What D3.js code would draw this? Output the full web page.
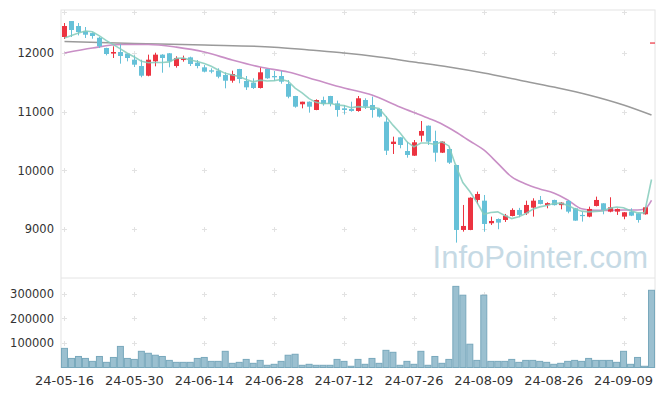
<!DOCTYPE html>
<html>
<head>
<meta charset="utf-8">
<script src="https://cdn.jsdelivr.net/npm/d3@7"></script>
<style>
  body { margin: 0; background: #fff; }
  svg { display: block; }
</style>
</head>
<body>
<svg id="chart" width="665" height="396"></svg>
<script>
const dates = ['24-05-16','24-05-17','24-05-20','24-05-21','24-05-22','24-05-23','24-05-24','24-05-27','24-05-28','24-05-29',
  '24-05-30','24-05-31','24-06-03','24-06-04','24-06-05','24-06-07','24-06-10','24-06-11','24-06-12','24-06-13',
  '24-06-14','24-06-17','24-06-18','24-06-19','24-06-20','24-06-21','24-06-24','24-06-25','24-06-26','24-06-27',
  '24-06-28','24-07-01','24-07-02','24-07-03','24-07-04','24-07-05','24-07-08','24-07-09','24-07-10','24-07-11',
  '24-07-12','24-07-15','24-07-16','24-07-17','24-07-18','24-07-19','24-07-22','24-07-23','24-07-24','24-07-25',
  '24-07-26','24-07-29','24-07-30','24-07-31','24-08-01','24-08-02','24-08-05','24-08-06','24-08-07','24-08-08',
  '24-08-09','24-08-12','24-08-13','24-08-14','24-08-16','24-08-19','24-08-20','24-08-21','24-08-22','24-08-23',
  '24-08-26','24-08-27','24-08-28','24-08-29','24-08-30','24-09-02','24-09-03','24-09-04','24-09-05','24-09-06',
  '24-09-09','24-09-10','24-09-11','24-09-12','24-09-13'];

const opens = [12273,12545,12460,12370,12340,12260,12085,11990,12017,11990,
  11886,11778,11613,11858,11972,11995,11778,11880,11926,11835,
  11756,11705,11699,11625,11528,11727,11523,11494,11404,11727,
  11608,11608,11472,11267,11126,11170,11029,11199,11267,11142,
  11057,11046,11012,11199,11114,11046,10830,10449,10563,10330,
  10250,10591,10761,10500,10301,10364,10091,8984,8984,9495,
  9483,9098,9171,9154,9222,9325,9268,9364,9495,9407,
  9495,9407,9478,9353,9240,9211,9393,9438,9296,9296,
  9211,9296,9268,9251,12180];
const highs = [12511,12545,12511,12443,12350,12273,12090,12114,12148,11995,
  11960,11886,11972,12005,11980,12000,11944,11955,11937,11880,
  11795,11739,11739,11671,11699,11730,11608,11569,11750,11730,
  11693,11693,11540,11270,11170,11175,11210,11256,11270,11188,
  11114,11170,11267,11228,11256,11050,10926,10574,10565,10489,
  10517,10841,10765,10676,10495,10404,10095,9410,9540,9637,
  9580,9211,9180,9257,9353,9360,9483,9524,9563,9455,
  9500,9460,9495,9360,9296,9381,9552,9440,9541,9350,
  9290,9353,9270,9380,12180];
const lows = [12239,12273,12300,12256,12244,12085,11960,11915,11818,11858,
  11761,11586,11603,11773,11664,11756,11750,11852,11778,11739,
  11670,11654,11569,11398,11494,11484,11370,11387,11395,11560,
  11528,11477,11228,11068,11057,10983,11025,11102,11091,10915,
  10955,11000,11000,11046,10898,10900,10262,10279,10376,10216,
  10245,10489,10432,10148,10295,10109,8768,8955,8980,9427,
  8955,9069,8996,9120,9215,9200,9240,9211,9420,9353,
  9400,9336,9268,9140,9126,9200,9385,9251,9285,9240,
  9166,9220,9109,9245,12180];
const closes = [12460,12392,12358,12312,12290,12114,11983,12017,11949,11915,
  11801,11613,11886,11972,11915,11858,11915,11909,11813,11778,
  11682,11682,11596,11528,11642,11557,11415,11404,11671,11569,
  11586,11511,11255,11085,11170,11085,11199,11131,11131,11029,
  11029,11012,11228,11085,11029,10915,10335,10489,10432,10262,
  10478,10671,10489,10301,10489,10131,8984,9052,9534,9597,
  9086,9137,9109,9228,9325,9240,9410,9483,9427,9441,
  9407,9449,9296,9143,9228,9342,9495,9325,9370,9342,
  9285,9228,9154,9370,12180];
const volumes = [78000,37000,45000,37000,25000,45000,21000,41000,86000,37000,
  33000,66000,58000,50000,45000,29000,21000,21000,21000,37000,
  41000,25000,25000,66000,17000,21000,33000,17000,29000,9000,
  13000,25000,50000,54000,9000,13000,9000,9000,9000,33000,
  25000,5000,33000,13000,37000,17000,70000,62000,9000,25000,
  13000,66000,9000,45000,17000,33000,331000,295000,95000,29000,
  295000,25000,25000,25000,33000,21000,29000,29000,25000,21000,
  13000,17000,25000,29000,25000,37000,29000,29000,29000,21000,
  66000,13000,41000,5000,315000];

// moving averages (earlier history is not shown)
const ma5Head = [12256,12300,12340,12375];
const ma20Idx = [0,4,8,12,16,20,24,28,32,36,40,44,48,52,54,56,58,60,62,64,66,68,70,72,74,76,78,80,82,83,84];
const ma20Vals = [12000,12085,12145,12145,12100,12017,11880,11760,11676,11540,11404,11284,11080,10892,10790,10654,10500,10347,10120,9887,9768,9683,9614,9495,9345,9318,9318,9325,9325,9340,9490];
const ma120Idx = [0,10,20,30,35,40,45,50,55,60,65,70,75,80,84];
const ma120Vals = [12196,12162,12136,12100,12051,12000,11932,11847,11761,11659,11540,11420,11285,11114,10943];

const priceTicks = [9000,10000,11000,12000];
const volTicks = [100000,200000,300000];
const labelEvery = 10;

const svg = d3.select('#chart');
const left = 61, right = 655;
const priceTop = 10, priceBottom = 278;
const volTop = 280, volBottom = 367.5;

const x = d3.scaleBand().domain(dates).range([left, right]).padding(0);
const cx = (d) => x(d) + x.bandwidth() / 2;
const y = d3.scaleLinear().domain([8165, 12733]).range([priceBottom, priceTop]);
const yv = d3.scaleLinear().domain([0, 357000]).range([volBottom, volTop]);

const rows = dates.map((d, i) => ({
  date: d, open: opens[i], high: highs[i], low: lows[i], close: closes[i], vol: volumes[i]
}));

// frame
const frame = svg.append('g').attr('stroke', '#e4e4e4').attr('fill', 'none');
frame.append('rect').attr('x', left).attr('y', priceTop).attr('width', right - left).attr('height', volBottom - priceTop);
frame.append('line').attr('x1', left).attr('x2', right).attr('y1', priceBottom).attr('y2', priceBottom);

// grid crosses
const gridX = dates.filter((d, i) => i % labelEvery === 0);
const crossRows = [y(12700)].concat(priceTicks.map(y), volTicks.map(yv));
const crosses = svg.append('g').attr('stroke', '#e2e2e2').attr('stroke-width', 1);
gridX.forEach((d) => {
  crossRows.forEach((yy) => {
    const px = Math.round(cx(d)) + 0.5, py = Math.round(yy) + 0.5;
    crosses.append('line').attr('x1', px - 2.5).attr('x2', px + 2.5).attr('y1', py).attr('y2', py);
    crosses.append('line').attr('x1', px).attr('x2', px).attr('y1', py - 2.5).attr('y2', py + 2.5);
  });
});

// watermark
svg.append('text')
  .attr('x', 648).attr('y', 268)
  .attr('text-anchor', 'end')
  .attr('font-family', 'Liberation Sans, Arial, sans-serif')
  .attr('font-size', 31)
  .attr('fill', '#c6dae5')
  .text('InfoPointer.com');

// axes
const yAxis = d3.axisLeft(y).tickValues(priceTicks).tickSize(0).tickPadding(7).tickFormat(d3.format('d'));
const ga = svg.append('g').attr('transform', `translate(${left},0)`).call(yAxis);
const vAxis = d3.axisLeft(yv).tickValues(volTicks).tickSize(0).tickPadding(7).tickFormat(d3.format('d'));
const gv = svg.append('g').attr('transform', `translate(${left},0)`).call(vAxis);
const xAxis = d3.axisBottom(x).tickValues(gridX).tickSize(0).tickPadding(8);
const gx = svg.append('g').attr('transform', `translate(0,${volBottom})`).call(xAxis);
[ga, gv, gx].forEach((g) => {
  g.select('.domain').remove();
  g.selectAll('text').attr('fill', '#333').attr('font-family', 'DejaVu Sans, sans-serif');
});
ga.selectAll('text').attr('font-size', 11.5);
gv.selectAll('text').attr('font-size', 11.5);
gx.selectAll('text').attr('font-size', 13);

// volume bars
svg.append('g').selectAll('rect')
  .data(rows)
  .enter()
  .append('rect')
  .attr('x', (d) => x(d.date) + 0.5)
  .attr('y', (d) => yv(d.vol))
  .attr('width', x.bandwidth() - 1)
  .attr('height', (d) => yv(0) - yv(d.vol))
  .attr('fill', '#9bc0d0')
  .attr('stroke', '#78a8bc')
  .attr('stroke-width', 1);

// moving average lines
const line = d3.line().x((d) => cx(dates[d[0]])).y((d) => y(d[1]));
const ma120Pts = ma120Idx.map((d, i) => [d, ma120Vals[i]]);
const ma20Pts = ma20Idx.map((d, i) => [d, ma20Vals[i]]);
const ma5Pts = closes.map((c, i) => {
  if (i < ma5Head.length) return [i, ma5Head[i]];
  return [i, d3.mean(closes.slice(i - 4, i + 1))];
});
svg.append('path').attr('d', line.curve(d3.curveMonotoneX)(ma120Pts))
  .attr('fill', 'none').attr('stroke', '#9a9a9a').attr('stroke-width', 1.5);
svg.append('path').attr('d', line.curve(d3.curveMonotoneX)(ma20Pts))
  .attr('fill', 'none').attr('stroke', '#c98fc6').attr('stroke-width', 1.6);

// candles
const candles = svg.append('g').selectAll('g')
  .data(rows)
  .enter()
  .append('g');
const colorOf = (d) => d.close >= d.open ? '#ec3340' : '#66c1d8';
candles.append('line')
  .attr('x1', (d) => Math.round(cx(d.date)) + 0.5)
  .attr('x2', (d) => Math.round(cx(d.date)) + 0.5)
  .attr('y1', (d) => y(d.high))
  .attr('y2', (d) => y(d.low))
  .attr('stroke', colorOf)
  .attr('stroke-width', 1);
candles.append('rect')
  .attr('x', (d) => Math.round(cx(d.date)) - 2)
  .attr('y', (d) => y(Math.max(d.open, d.close)))
  .attr('width', 5)
  .attr('height', (d) => Math.max(1.2, Math.abs(y(d.open) - y(d.close))))
  .attr('fill', colorOf);

svg.append('path').attr('d', line.curve(d3.curveLinear)(ma5Pts))
  .attr('fill', 'none').attr('stroke', '#84cbbb').attr('stroke-opacity', 0.85).attr('stroke-width', 1.6);
</script>
</body>
</html>
